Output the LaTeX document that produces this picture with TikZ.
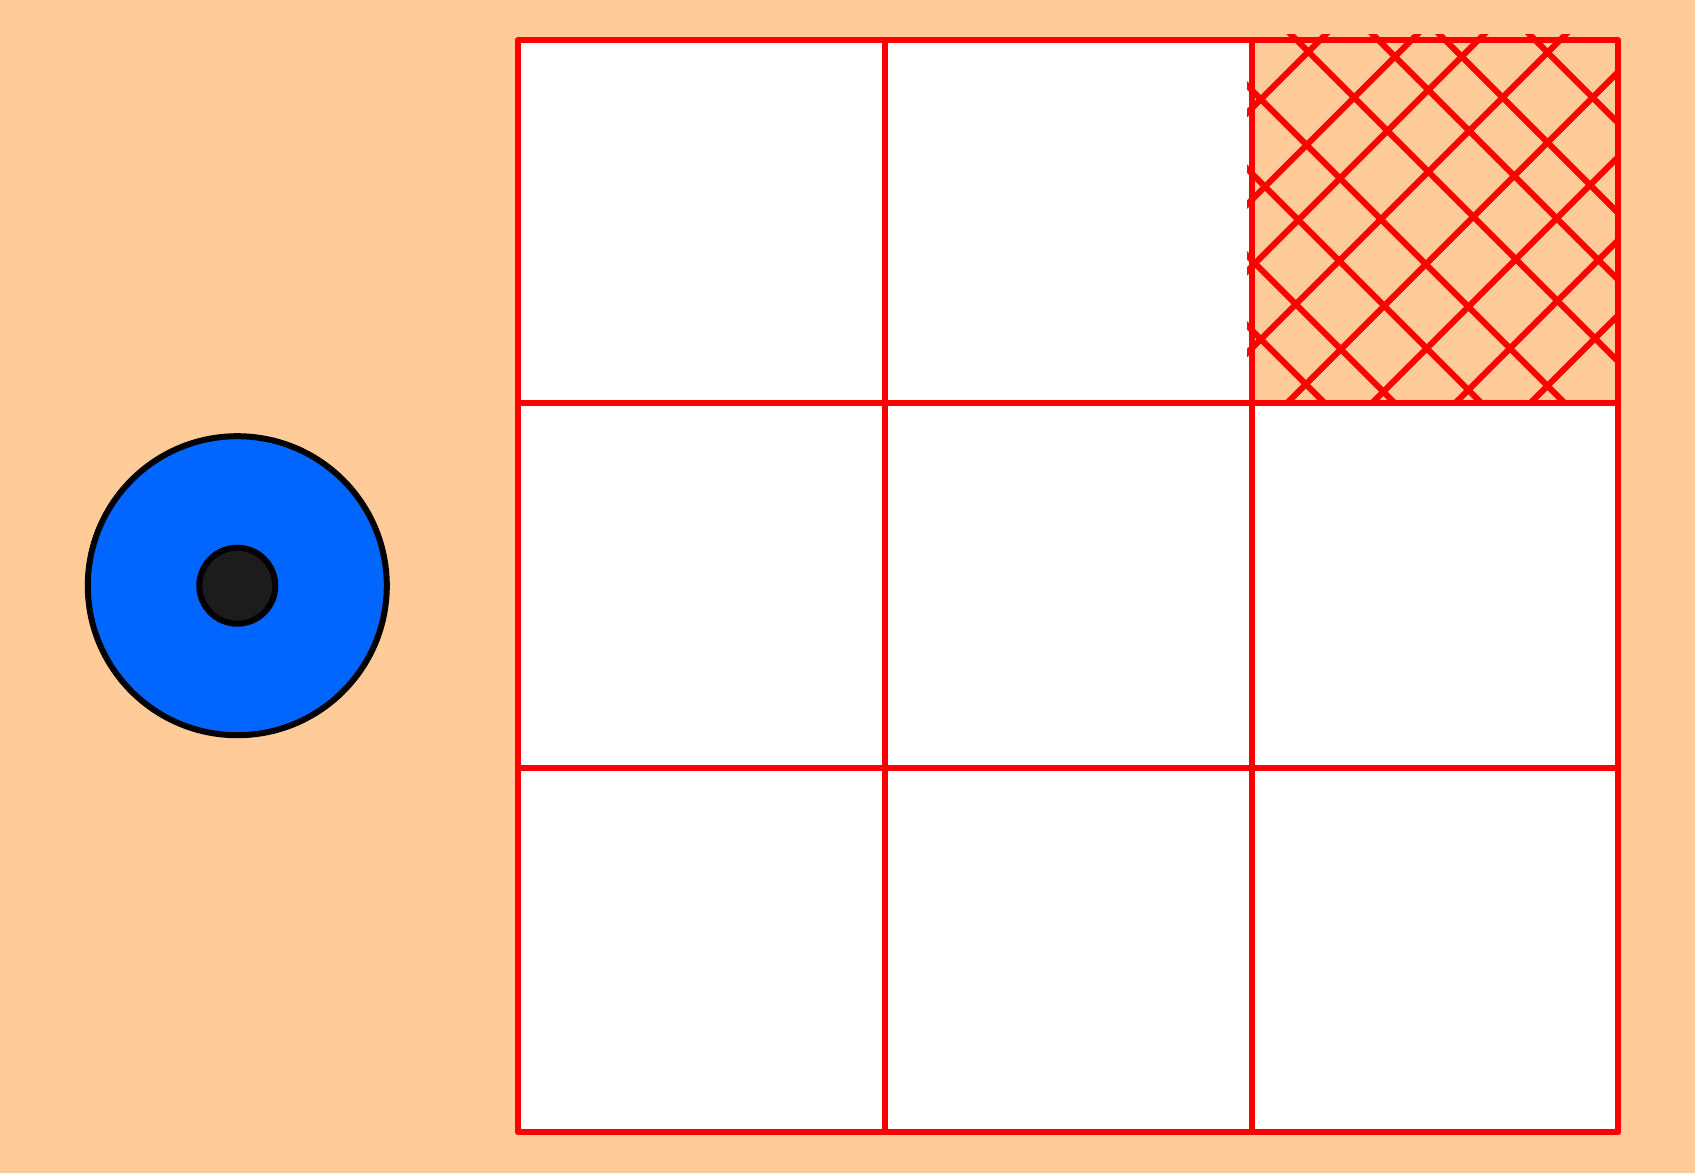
\documentclass[tikz,border=0pt]{standalone}
\definecolor{peach}{RGB}{255,204,153}
\definecolor{gridred}{RGB}{255,0,0}
\definecolor{discblue}{RGB}{0,102,255}
\definecolor{hubgray}{RGB}{28,28,28}
\begin{document}
\begin{tikzpicture}[x=0.5pt,y=-0.5pt,
  gridline/.style={draw=gridred,line width=3pt,line cap=round,line join=round},
  hatchline/.style={draw=gridred,line width=3pt},
  ringstyle/.style={draw=black,line width=3pt}]
\fill[peach] (0,0) rectangle (1695,1173);
\useasboundingbox (0,0) rectangle (1695,1173);
% white cells
\fill[white] (518,40) rectangle (1252,403);
\fill[white] (518,403) rectangle (1618,1132);
% cross hatching in the top-right cell
\begin{scope}
  \clip (1247,34) rectangle (1618,403);
  \foreach \c in {921.7,991.7,1078.3,1161.7,1256.7,1338.3,1405,1495}
    \draw[hatchline] (\c,0) -- ({\c+450},450);
  \foreach \c in {1360,1451.7,1518.3,1600,1690,1775,1858.3,1933.3}
    \draw[hatchline] (\c,0) -- ({\c-450},450);
\end{scope}
% grid
\draw[gridline] (518,40) rectangle (1618,1132);
\draw[gridline] (885,40) -- (885,1132);
\draw[gridline] (1252,40) -- (1252,1132);
\draw[gridline] (518,403) -- (1618,403);
\draw[gridline] (518,768) -- (1618,768);
% disc
\coordinate (disc) at (237.3,585.7);
\draw[ringstyle,fill=discblue] (disc) circle[radius=74.75pt];
\draw[ringstyle,fill=hubgray] (disc) circle[radius=19pt];
\end{tikzpicture}
\end{document}
